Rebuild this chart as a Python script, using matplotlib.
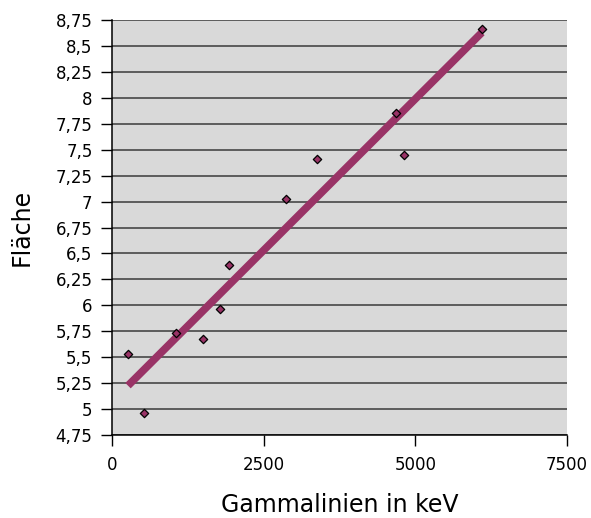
import numpy as np
import matplotlib.pyplot as plt
from matplotlib.ticker import FixedLocator, FuncFormatter

# Gammalinien (keV) und zugehörige Fläche
energie = [264, 533, 1056, 1496, 1781, 1930, 2865, 3376, 4679, 4811, 6097]
flaeche = [5.53, 4.965, 5.73, 5.675, 5.964, 6.389, 7.022, 7.41, 7.85, 7.452, 8.66]

y_ticks = np.arange(4.75, 8.76, 0.25)
x_ticks = [0, 2500, 5000, 7500]

# lineare Ausgleichsgerade über den Datenbereich
m, b = np.polyfit(energie, flaeche, 1)
x_fit = np.array([min(energie), max(energie)])
y_fit = m * x_fit + b

fig = plt.figure(figsize=(5.91, 5.18), dpi=100)
ax = fig.add_axes([0.1895, 0.1602, 0.7699, 0.8012])
ax.set_facecolor('#d9d9d9')

for yt in y_ticks:
    ax.axhline(yt, color='#3a3a3a', lw=1.1, zorder=1)

ax.plot(x_fit, y_fit, color='#993366', lw=5.5, solid_capstyle='butt', zorder=2)
ax.scatter(energie, flaeche, marker='D', s=18, facecolor='#993366',
           edgecolor='black', linewidth=0.9, zorder=3)

ax.set_xlim(0, 7500)
ax.set_ylim(4.75, 8.75)
ax.xaxis.set_major_locator(FixedLocator(x_ticks))
ax.yaxis.set_major_locator(FixedLocator(y_ticks))
ax.yaxis.set_major_formatter(FuncFormatter(lambda v, p: ('%g' % round(v, 2)).replace('.', ',')))

ax.spines['right'].set_visible(False)
ax.spines['top'].set_visible(False)
for s in ('left', 'bottom'):
    ax.spines[s].set_color('black')
    ax.spines[s].set_linewidth(1.1)

ax.tick_params(axis='both', direction='out', length=8, width=1, labelsize=12, colors='black')
ax.tick_params(axis='x', pad=7)
ax.tick_params(axis='y', pad=6)

ax.set_xlabel('Gammalinien in keV', fontsize=17, labelpad=14)
ax.set_ylabel('Fläche', fontsize=17, labelpad=16)

fig.savefig('out.png', dpi=100)
